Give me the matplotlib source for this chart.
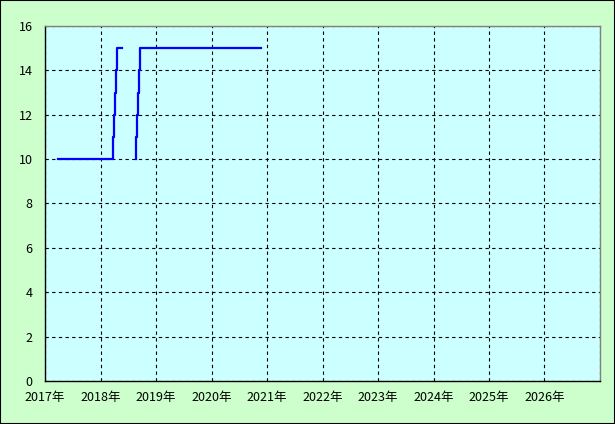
import matplotlib
matplotlib.use("Agg")
import matplotlib.pyplot as plt
from matplotlib.patches import Rectangle

plt.rcParams['font.family'] = ['Noto Sans CJK JP', 'DejaVu Sans']

# Données (années décimales, valeurs)
annees_a = [2017.229, 2018.220, 2018.238, 2018.261, 2018.285, 2018.297, 2018.382]
valeurs_a = [10, 11, 12, 13, 14, 15, 15]
annees_b = [2018.634, 2018.634, 2018.652, 2018.670, 2018.694, 2018.706, 2020.886]
valeurs_b = [10, 11, 12, 13, 14, 15, 15]

annees_ticks = list(range(2017, 2028))
labels_x = [f"{a}年" for a in range(2017, 2027)] + [""]
yticks = [0, 2, 4, 6, 8, 10, 12, 14, 16]

fig = plt.figure(figsize=(6.15, 4.24), dpi=100)
fig.patch.set_facecolor("#ccffcc")
ax = fig.add_axes([0.0732, 0.1014, 0.9024, 0.8373])
ax.set_facecolor("#ccffff")

ax.step(annees_a, valeurs_a, where="post", color="#0000ff", lw=1.6)
ax.step(annees_b, valeurs_b, where="post", color="#0000ff", lw=1.6)

ax.set_xlim(2017, 2027)
ax.set_ylim(0, 16)
ax.set_xticks(annees_ticks)
ax.set_xticklabels(labels_x)
ax.set_yticks(yticks)
ax.tick_params(length=0, labelsize=9, colors="black")
ax.tick_params(axis="y", pad=9)
ax.tick_params(axis="x", pad=7)
ax.grid(True, color="black", linestyle=(0, (3, 3)), linewidth=0.8)

for s in ["left", "bottom"]:
    ax.spines[s].set_color("black")
    ax.spines[s].set_linewidth(1)
for s in ["top", "right"]:
    ax.spines[s].set_color("#808080")
    ax.spines[s].set_linewidth(1)

# Cadre noir autour de la figure
fig.patches.append(Rectangle((0, 0), 1, 1, transform=fig.transFigure,
                             fill=False, edgecolor="black", linewidth=1.5))

fig.savefig("out.png", dpi=100, facecolor=fig.get_facecolor())
